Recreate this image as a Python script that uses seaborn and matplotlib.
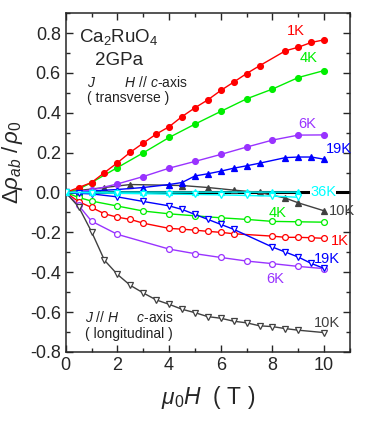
import numpy as np
import pandas as pd
import matplotlib
matplotlib.use("Agg")
import matplotlib.pyplot as plt
import seaborn as sns
from matplotlib.ticker import MultipleLocator

sns.set_style("ticks")
plt.rcParams['font.family'] = ['Liberation Sans', 'DejaVu Sans']
plt.rcParams['mathtext.fontset'] = 'custom'
plt.rcParams['mathtext.rm'] = 'Liberation Sans'
plt.rcParams['mathtext.it'] = 'Liberation Sans:italic'

# ---- data: transverse (filled markers) ----
t1_x = [0, 0.5, 1, 1.5, 2, 2.5, 3, 3.5, 4, 4.5, 5, 5.5, 6, 6.5, 7, 7.5, 8.5, 9, 9.5, 10]
t1_y = [0, 0.025, 0.05, 0.10, 0.149, 0.202, 0.248, 0.293, 0.33, 0.381, 0.425, 0.465, 0.512, 0.554, 0.597, 0.636, 0.711, 0.729, 0.753, 0.766]
t4_x = [0, 0.5, 1, 2, 3, 4, 5, 6, 7, 8, 9, 10]
t4_y = [0, 0.017, 0.05, 0.125, 0.199, 0.276, 0.343, 0.407, 0.47, 0.519, 0.577, 0.612]
t6_x = [0, 1, 2, 3, 4, 5, 6, 7, 8, 9, 10]
t6_y = [0, 0.012, 0.043, 0.08, 0.122, 0.156, 0.191, 0.228, 0.263, 0.288, 0.289]
t19_x = [0, 0.5, 1, 2, 3, 4, 4.5, 5, 5.5, 6, 6.5, 7, 7.5, 8.5, 9, 9.5, 10]
t19_y = [0, 0.004, 0.008, 0.015, 0.025, 0.04, 0.05, 0.083, 0.094, 0.107, 0.122, 0.134, 0.147, 0.175, 0.178, 0.178, 0.167]
t10_x = [0, 0.5, 1.5, 2.5, 4.5, 5.5, 6.5, 7.5, 8.5, 9, 10]
t10_y = [0, 0.01, 0.025, 0.04, 0.035, 0.025, 0.012, 0.0, -0.028, -0.052, -0.092]
t36_x = [0, 1, 2, 3, 4, 5, 6, 7, 8, 9]
t36_y = [0, 0.002, 0.002, 0.002, 0.002, 0.002, 0.002, 0.002, 0.002, 0.002]

# ---- data: longitudinal (open markers) ----
l4_x = [0, 0.5, 1, 2, 3, 4, 5, 6, 7, 8, 9, 10]
l4_y = [0, -0.025, -0.043, -0.068, -0.093, -0.107, -0.117, -0.127, -0.135, -0.145, -0.147, -0.149]
l1_x = [0, 0.5, 1, 1.5, 2, 2.5, 3, 4, 4.5, 5, 5.5, 6, 6.5, 8, 8.5, 9, 9.5, 10]
l1_y = [0, -0.046, -0.075, -0.107, -0.124, -0.135, -0.154, -0.18, -0.184, -0.189, -0.195, -0.2, -0.207, -0.219, -0.225, -0.225, -0.227, -0.23]
l6_x = [0, 0.5, 1, 2, 4, 5, 6, 7, 8, 9, 10]
l6_y = [0, -0.065, -0.144, -0.21, -0.284, -0.307, -0.326, -0.344, -0.357, -0.371, -0.382]
l19_x = [0, 0.5, 1, 2, 3, 4, 4.5, 5, 5.5, 6, 6.5, 8, 8.5, 9, 9.5, 10]
l19_y = [0, -0.004, -0.007, -0.022, -0.045, -0.067, -0.085, -0.11, -0.135, -0.16, -0.185, -0.274, -0.299, -0.324, -0.356, -0.381]
l10_x = [0, 0.5, 1, 1.5, 2, 2.5, 3, 3.5, 4, 4.5, 5, 5.5, 6, 6.5, 7, 7.5, 8, 8.5, 9, 10]
l10_y = [0, -0.072, -0.197, -0.34, -0.411, -0.466, -0.504, -0.539, -0.561, -0.586, -0.603, -0.623, -0.631, -0.646, -0.654, -0.669, -0.673, -0.683, -0.691, -0.703]
l36_x = [0, 1, 2, 3, 4, 5, 6, 7, 8, 9]
l36_y = [0, -0.002, -0.004, -0.006, -0.008, -0.01, -0.012, -0.015, -0.018, -0.024]

RED, GREEN, PURPLE, BLUE, GRAY, CYAN = '#ff0000', '#00ee00', '#9933ff', '#0000ff', '#404040', '#00ffff'

fig = plt.figure(figsize=(3.65, 4.24), dpi=100)
ax = fig.add_axes([0.18, 0.17, 0.779, 0.799])

ax.axhline(0, color='black', lw=2.2, zorder=1)

series = [
    (t10_x, t10_y, GRAY, '^', True),
    (t19_x, t19_y, BLUE, '^', True),
    (t6_x, t6_y, PURPLE, 'o', True),
    (t4_x, t4_y, GREEN, 'o', True),
    (t1_x, t1_y, RED, 'o', True),
    (l4_x, l4_y, GREEN, 'o', False),
    (l1_x, l1_y, RED, 'o', False),
    (l6_x, l6_y, PURPLE, 'o', False),
    (l19_x, l19_y, BLUE, 'v', False),
    (l10_x, l10_y, GRAY, 'v', False),
    (t36_x, t36_y, CYAN, '^', True),
    (l36_x, l36_y, CYAN, 'v', False),
]
for x, y, c, m, filled in series:
    sns.lineplot(x=x, y=y, ax=ax, color=c, lw=1.0, marker=m, markersize=4.2,
                 markerfacecolor=(c if filled else 'white'), markeredgecolor=c,
                 markeredgewidth=0.9, sort=False, zorder=3)

ax.set_xlim(0, 11)
ax.set_ylim(-0.8, 0.9)
ax.xaxis.set_minor_locator(MultipleLocator(1))
ax.yaxis.set_minor_locator(MultipleLocator(0.1))
ax.set_xticks([0, 2, 4, 6, 8, 10])
ax.set_yticks([-0.8, -0.6, -0.4, -0.2, 0.0, 0.2, 0.4, 0.6, 0.8])
ax.set_yticklabels(['-0.8', '-0.6', '-0.4', '-0.2', '0.0', '0.2', '0.4', '0.6', '0.8'])
ax.tick_params(which='both', direction='in', top=True, right=True, labelsize=13, width=1.0)
ax.tick_params(which='major', length=5)
ax.tick_params(which='minor', length=3)
for s in ax.spines.values():
    s.set_linewidth(1.1)

ax.set_xlabel(r'$\mu_0H$  ( T )', fontsize=16.5, labelpad=7)
ax.set_ylabel(r'$\Delta\rho_{ab}\ /\,\rho_0$', fontsize=16, labelpad=1)
ax.yaxis.set_label_coords(-0.143, 0.56)

fs = 10.5
ax.text(8.55, 0.792, '1K', color=RED, fontsize=fs)
ax.text(9.05, 0.655, '4K', color=GREEN, fontsize=fs)
ax.text(9.0, 0.325, '6K', color=PURPLE, fontsize=fs)
ax.text(10.05, 0.2, '19K', color=BLUE, fontsize=fs)
ax.text(9.45, 0.0, '36K', color=CYAN, fontsize=fs, va='center', zorder=5,
        bbox=dict(facecolor='white', edgecolor='none', pad=0.3))
ax.text(10.17, -0.092, '10K', color=GRAY, fontsize=fs, va='center')
ax.text(7.85, -0.125, '4K', color=GREEN, fontsize=fs)
ax.text(10.25, -0.265, '1K', color=RED, fontsize=fs)
ax.text(9.6, -0.355, '19K', color=BLUE, fontsize=fs)
ax.text(7.75, -0.455, '6K', color=PURPLE, fontsize=fs)
ax.text(9.6, -0.675, '10K', color=GRAY, fontsize=fs)

ax.text(0.52, 0.755, r'Ca$_2$RuO$_4$', fontsize=13.5)
ax.text(1.12, 0.64, '2GPa', fontsize=13.5)
ax.text(0.83, 0.53, r'$J$        $H$ // $c$-axis', fontsize=10, color='#222222')
ax.text(0.83, 0.455, '( transverse )', fontsize=10, color='#222222')
ax.text(0.75, -0.652, r'$J$ // $H$     $c$-axis', fontsize=10, color='#222222')
ax.text(0.75, -0.73, '( longitudinal )', fontsize=10, color='#222222')

fig.savefig('out.png', dpi=100)
